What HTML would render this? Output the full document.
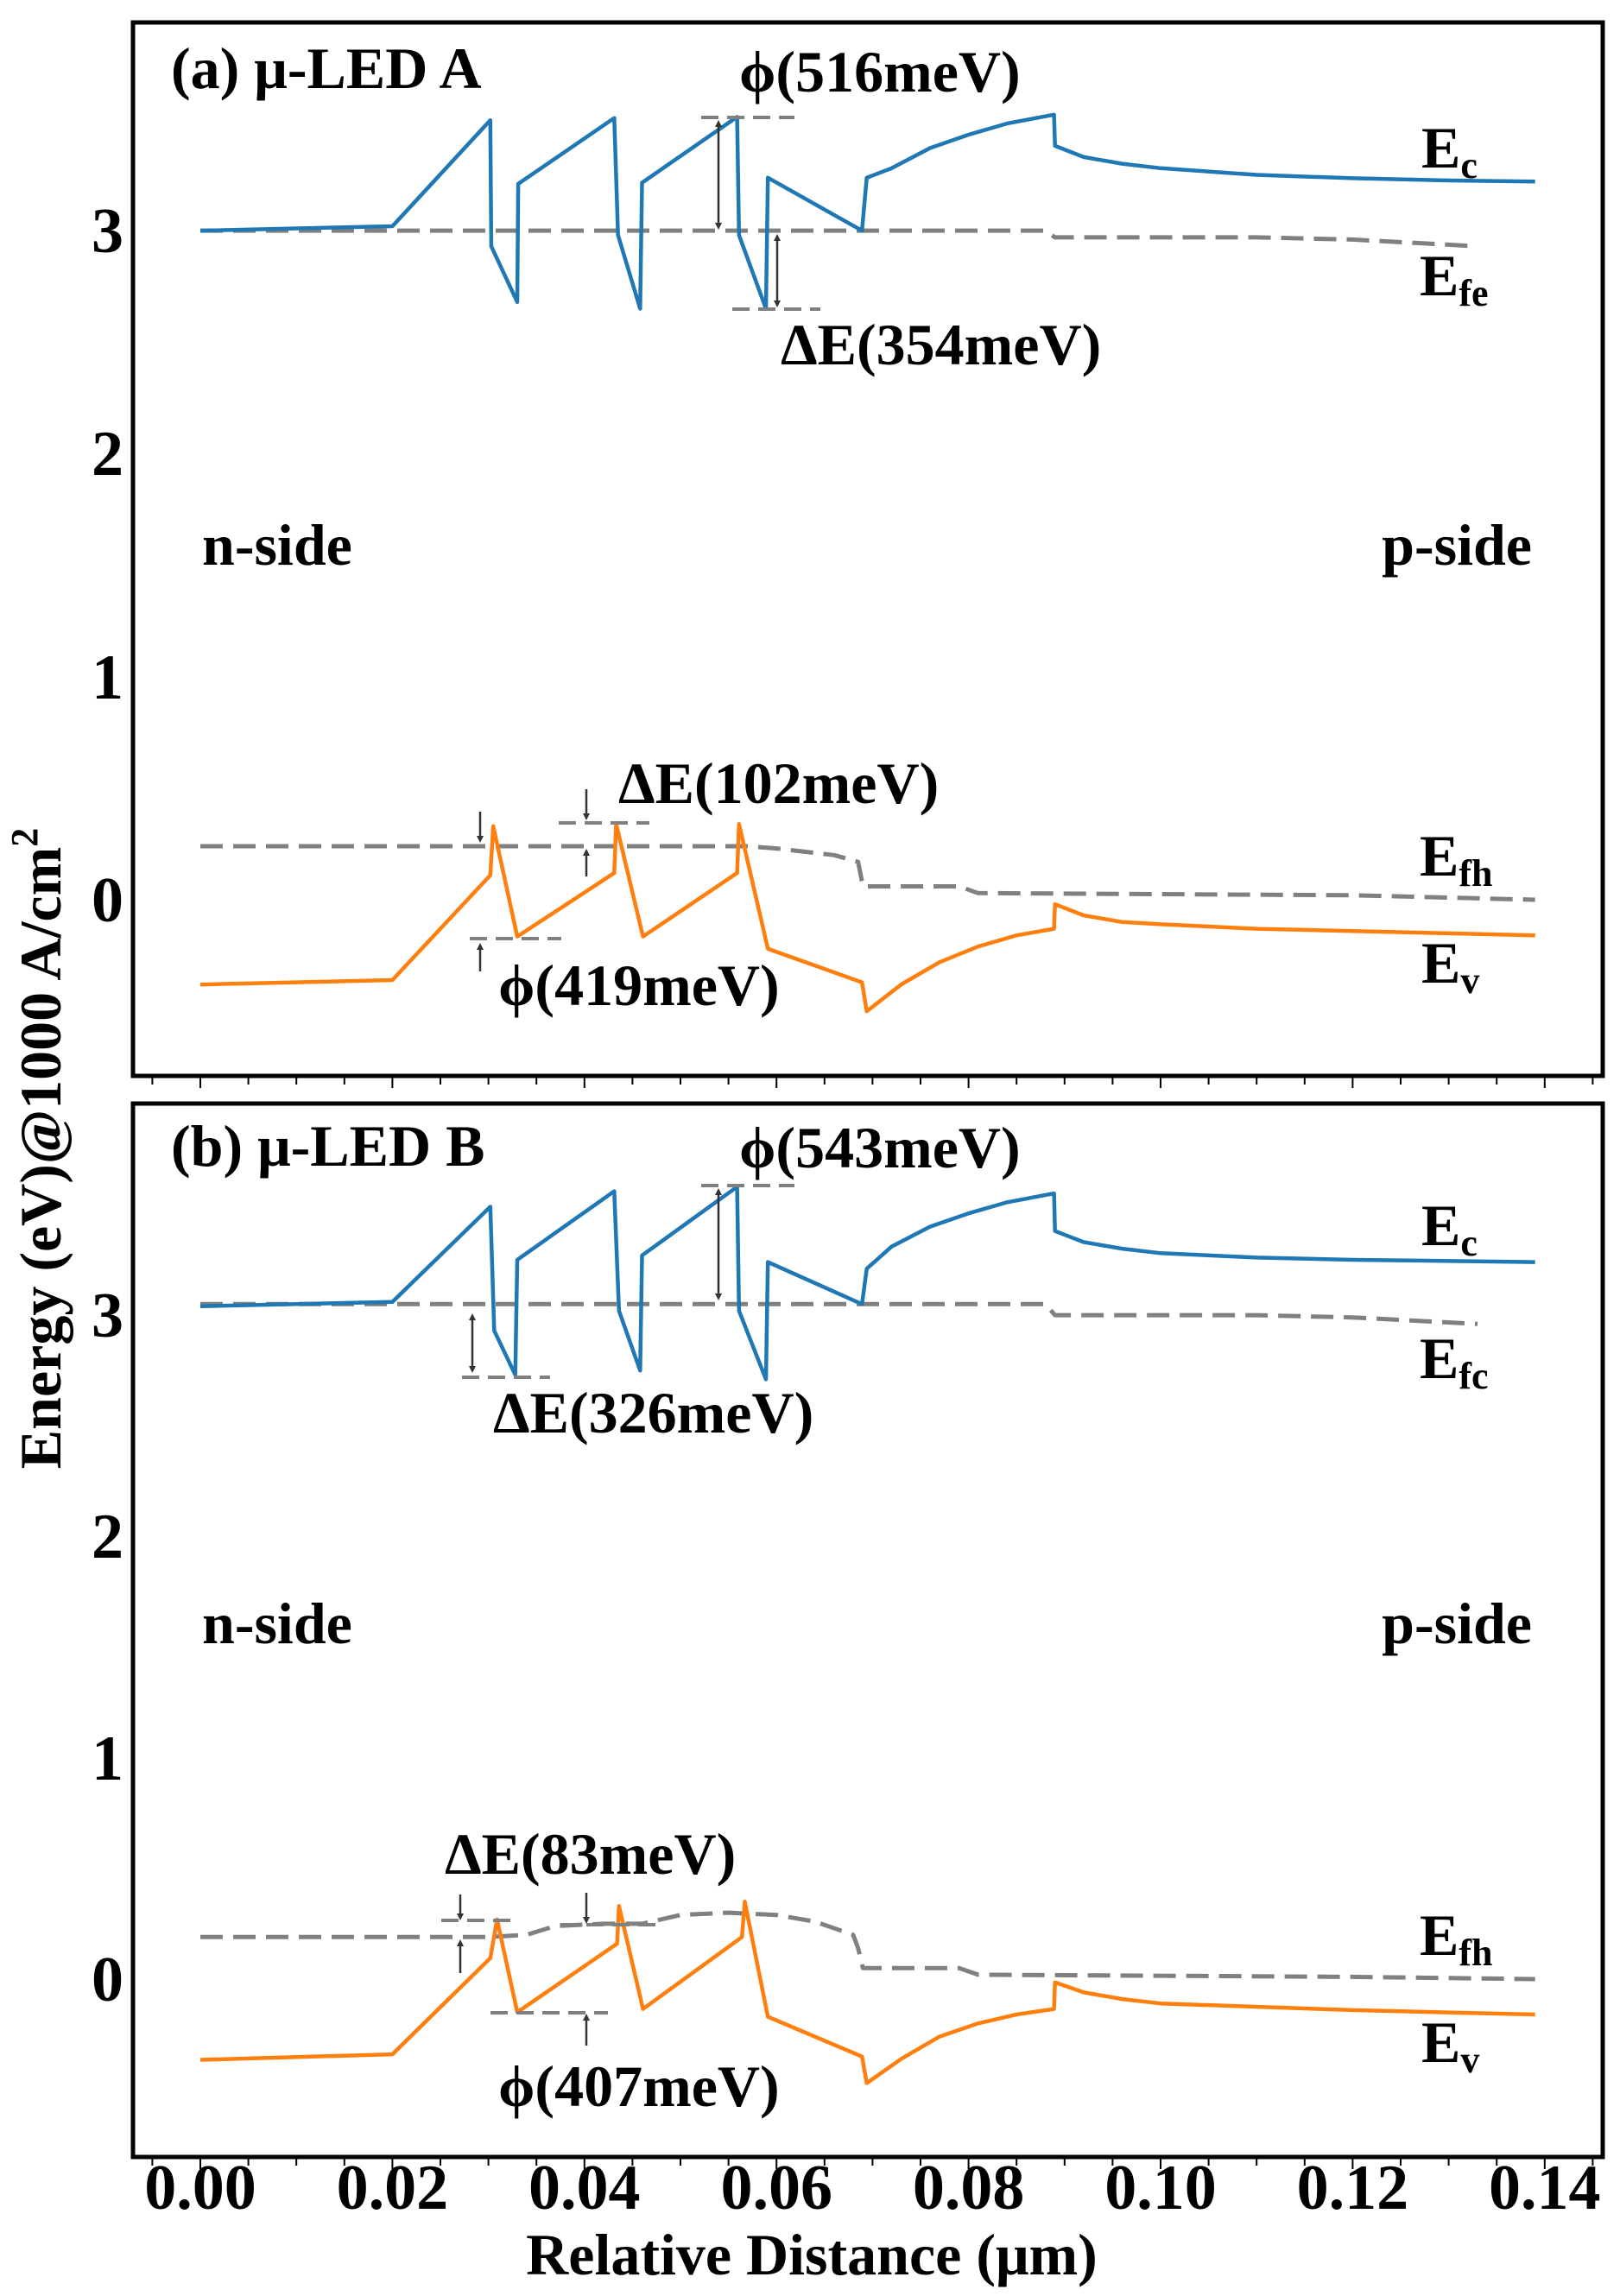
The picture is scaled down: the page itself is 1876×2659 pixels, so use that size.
<!DOCTYPE html>
<html><head><meta charset="utf-8"><style>
html,body{margin:0;padding:0;background:#fff}
svg{display:block}
text{font-family:"Liberation Serif","DejaVu Serif",serif;font-weight:bold;fill:#000}
</style></head><body>
<svg width="1876" height="2659" viewBox="0 0 1876 2659" xmlns="http://www.w3.org/2000/svg">
<defs>
<marker id="ah" markerWidth="8" markerHeight="8" refX="4" refY="4" orient="auto-start-reverse" markerUnits="userSpaceOnUse"><path d="M0,0 L8,4 L0,8 z" fill="#333"/></marker>
</defs>
<rect x="154" y="26" width="1702" height="1220" fill="none" stroke="#000" stroke-width="5"/>
<rect x="154" y="1278" width="1702" height="1220" fill="none" stroke="#000" stroke-width="5"/>
<g stroke="#000" stroke-width="2">
<path d="M176.4,1248v8M232,1248v12M287.6,1248v8M343.2,1248v8M398.8,1248v8M454.4,1248v12M510,1248v8M565.6,1248v8M621.2,1248v8M676.8,1248v12M732.4,1248v8M788,1248v8M843.6,1248v8M899.2,1248v12M954.8,1248v8M1010.4,1248v8M1066,1248v8M1121.6,1248v12M1177.2,1248v8M1232.8,1248v8M1288.4,1248v8M1344,1248v12M1399.6,1248v8M1455.2,1248v8M1510.8,1248v8M1566.4,1248v12M1622,1248v8M1677.6,1248v8M1733.2,1248v8M1788.8,1248v12M1844.4,1248v8"/>
<path d="M176.4,2500v8M232,2500v12M287.6,2500v8M343.2,2500v8M398.8,2500v8M454.4,2500v12M510,2500v8M565.6,2500v8M621.2,2500v8M676.8,2500v12M732.4,2500v8M788,2500v8M843.6,2500v8M899.2,2500v12M954.8,2500v8M1010.4,2500v8M1066,2500v8M1121.6,2500v12M1177.2,2500v8M1232.8,2500v8M1288.4,2500v8M1344,2500v12M1399.6,2500v8M1455.2,2500v8M1510.8,2500v8M1566.4,2500v12M1622,2500v8M1677.6,2500v8M1733.2,2500v8M1788.8,2500v12M1844.4,2500v8"/>
</g>
<g font-size="74" text-anchor="end">
<text x="143" y="292">3</text><text x="143" y="550">2</text><text x="143" y="809">1</text><text x="143" y="1067">0</text>
<text x="143" y="1548">3</text><text x="143" y="1804">2</text><text x="143" y="2061">1</text><text x="143" y="2317">0</text>
</g>
<g font-size="74" text-anchor="middle">
<text x="232" y="2558">0.00</text><text x="454.4" y="2558">0.02</text><text x="676.8" y="2558">0.04</text><text x="899.2" y="2558">0.06</text><text x="1121.6" y="2558">0.08</text><text x="1344" y="2558">0.10</text><text x="1566.4" y="2558">0.12</text><text x="1788.8" y="2558">0.14</text>
</g>
<text x="940" y="2634" font-size="68" text-anchor="middle">Relative Distance (μm)</text>
<text transform="translate(70,1330) rotate(-90)" font-size="68" text-anchor="middle">Energy (eV)@1000 A/cm<tspan font-size="44" dy="-27">2</tspan></text>

<g fill="none" stroke-linejoin="round">
<polyline stroke="#808080" stroke-width="5" stroke-dasharray="26,12" points="232,267.1 1210.6,267.1 1221.7,274.9 1455,274.9 1566,277.4 1711,285.2"/>
<polyline stroke="#808080" stroke-width="5" stroke-dasharray="26,12" points="232,980 865.8,980 899.2,982.6 966,990.3 993.7,998.1 999.3,1026.5 1110.5,1026.5 1132.7,1034.3 1566,1036.8 1777.7,1042"/>
<polyline stroke="#1f77b4" stroke-width="4.5" points="232,267.1 454.4,262 567.8,139.2 568.9,285.2 599,349.8 600.1,212.9 711.3,136.7 715.7,272.3 741.3,357.5 743.5,211.6 853.6,135.4 855.8,272.3 887,357.5 889.2,205.8 998.2,267.1 1003.7,205.8 1032.6,194.8 1077,171.5 1121.6,156 1166,143.1 1220.6,132.8 1221.7,168.9 1255,181.9 1299.5,189.6 1344,194.8 1455,202.5 1566,206.4 1677.6,209 1777.7,210.3"/>
<polyline stroke="#ff7f0e" stroke-width="4.5" points="232,1140.2 454.4,1135 567.8,1013.6 571.2,956.8 599,1084.6 711.3,1011 713.5,954.2 744.6,1084.6 853.6,1011 855.8,954.2 889.2,1098.8 998.2,1137.6 1003.7,1171.2 1043.8,1140 1088,1114.3 1132.7,1096.2 1177,1083.3 1220.6,1075.6 1221.7,1047.2 1255,1060.1 1299.5,1067.8 1344,1070.4 1455,1075.6 1566,1078.2 1777.7,1083.3"/>
</g>
<g stroke="#808080" stroke-width="4" stroke-dasharray="20,10" fill="none">
<path d="M812,136H920M848,358H950M647,953H752M544,1087H650"/>
</g>
<g stroke="#333" stroke-width="2.5" fill="none">
<path d="M832,143V262" marker-start="url(#ah)" marker-end="url(#ah)"/>
<path d="M900,275V352" marker-start="url(#ah)" marker-end="url(#ah)"/>
<path d="M679,914V946" marker-end="url(#ah)"/>
<path d="M679,1015V987" marker-end="url(#ah)"/>
<path d="M556,940V972" marker-end="url(#ah)"/>
<path d="M556,1125V1096" marker-end="url(#ah)"/>
</g>
<g font-size="68">
<text x="198" y="102">(a)  μ-LED A</text>
<text x="856" y="106">ϕ(516meV)</text>
<text x="904" y="422">ΔE(354meV)</text>
<text x="716" y="930">ΔE(102meV)</text>
<text x="577" y="1164">ϕ(419meV)</text>
<text x="234" y="654">n-side</text>
<text x="1774" y="654" text-anchor="end">p-side</text>
<text x="1646" y="194">E<tspan font-size="44" dy="12">c</tspan></text>
<text x="1644" y="342">E<tspan font-size="44" dy="12">fe</tspan></text>
<text x="1644" y="1014">E<tspan font-size="44" dy="12">fh</tspan></text>
<text x="1646" y="1138">E<tspan font-size="44" dy="12">v</tspan></text>
</g>

<g fill="none" stroke-linejoin="round">
<polyline stroke="#808080" stroke-width="5" stroke-dasharray="26,12" points="232,1510.3 1210.6,1510.3 1221.7,1523.1 1455,1523.1 1566,1525.7 1711,1533.3"/>
<polyline stroke="#808080" stroke-width="5" stroke-dasharray="26,12" points="232,2243.3 565.6,2243.3 610,2240.7 643,2230.5 699,2227.9 743.5,2227.9 788,2217.7 843.6,2215.1 899.2,2217.7 943.7,2225.4 988,2240.7 993.7,2256.1 999.3,2279.2 1110.5,2279.2 1132.7,2286.9 1566,2289.4 1777.7,2292"/>
<polyline stroke="#1f77b4" stroke-width="4.5" points="232,1512.8 454.4,1507.7 567.8,1397.5 572.3,1541 596.7,1592.3 599,1459 711.3,1379.6 716.8,1518 741.3,1587.2 743.5,1453.9 853.6,1374.4 855.8,1518 887,1597.4 889.2,1461.6 998.2,1510.3 1003.7,1469.3 1032.6,1443.6 1077,1420.6 1121.6,1405.2 1166,1392.4 1220.6,1382.1 1221.7,1425.7 1255,1438.5 1299.5,1446.1 1344,1451.3 1455,1456.4 1566,1459 1777.7,1461.6"/>
<polyline stroke="#ff7f0e" stroke-width="4.5" points="232,2385.5 454.4,2379.1 567.8,2267.7 575.6,2222.8 599,2330.4 714.6,2251 716.8,2207.4 744.6,2326.6 859.2,2243.3 862.5,2202.3 889.2,2335.6 998.2,2381.7 1003.7,2412.5 1043.8,2384.3 1088,2358.6 1132.7,2343.3 1177,2333 1220.6,2326.6 1221.7,2295.8 1255,2307.4 1299.5,2315.1 1344,2320.2 1566,2327.9 1777.7,2333"/>
</g>
<g stroke="#808080" stroke-width="4" stroke-dasharray="20,10" fill="none">
<path d="M812,1373H920M535,1595H637M511,2224H601M649,2229H764M568,2331H704"/>
</g>
<g stroke="#333" stroke-width="2.5" fill="none">
<path d="M832,1380V1502" marker-start="url(#ah)" marker-end="url(#ah)"/>
<path d="M547,1525V1586" marker-start="url(#ah)" marker-end="url(#ah)"/>
<path d="M533,2194V2220" marker-end="url(#ah)"/>
<path d="M533,2285V2250" marker-end="url(#ah)"/>
<path d="M679,2192V2224" marker-end="url(#ah)"/>
<path d="M679,2369V2336" marker-end="url(#ah)"/>
</g>
<g font-size="68">
<text x="198" y="1350">(b)  μ-LED B</text>
<text x="856" y="1352">ϕ(543meV)</text>
<text x="571" y="1659">ΔE(326meV)</text>
<text x="515" y="2170">ΔE(83meV)</text>
<text x="577" y="2439">ϕ(407meV)</text>
<text x="234" y="1903">n-side</text>
<text x="1774" y="1903" text-anchor="end">p-side</text>
<text x="1646" y="1442">E<tspan font-size="44" dy="12">c</tspan></text>
<text x="1644" y="1596">E<tspan font-size="44" dy="12">fc</tspan></text>
<text x="1644" y="2264">E<tspan font-size="44" dy="12">fh</tspan></text>
<text x="1646" y="2388">E<tspan font-size="44" dy="12">v</tspan></text>
</g>
</svg>
</body></html>
